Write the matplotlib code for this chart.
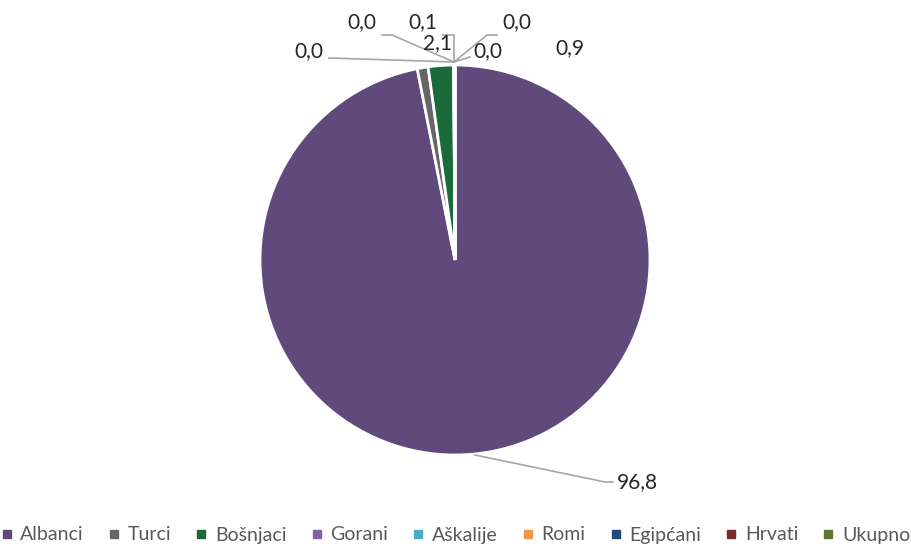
import numpy as np
import matplotlib.pyplot as plt
from matplotlib.lines import Line2D

# shares by group (%)
groups = ['Albanci', 'Turci', 'Bošnjaci', 'Gorani', 'Aškalije', 'Romi', 'Egipćani', 'Hrvati', 'Ukupno']
shares = [96.8, 0.9, 2.1, 0.0, 0.0, 0.1, 0.0, 0.0, 0.0]
labels = ['96,8', '0,9', '2,1', '0,0', '0,0', '0,1', '0,0', '0,0', '']
colors = ['#604a7b', '#666666', '#1b6a3a', '#8064a2', '#4bacc6', '#f79646', '#1f497d', '#772c2a', '#5f7530']

W, H = 911, 547
plt.rcParams['font.family'] = ['Lato', 'DejaVu Sans']

fig = plt.figure(figsize=(W / 100, H / 100), dpi=100)
ax = fig.add_axes([0, 0, 1, 1])

cx, cy, r = 455, H - 260, 195
wedges, _ = ax.pie(shares, colors=colors, startangle=90, counterclock=False,
                   center=(cx, cy), radius=r,
                   wedgeprops=dict(edgecolor='white', linewidth=2))
ax.set_xlim(0, W)
ax.set_ylim(0, H)
ax.set_aspect('equal')
ax.axis('off')

# label placement (pixel coords, y from top) and leader line paths
top = (454, 62)
label_pos = {
    0: (637, 482),
    1: (570, 48),
    2: (437, 43),
    3: (309, 51),
    4: (362, 22),
    5: (423, 22),
    6: (517, 22),
    7: (488, 51),
}
leaders = {
    0: [(475, 455), (605, 482), (613, 482)],
    3: [(329, 58), top],
    4: [(382, 35), (392, 35), top],
    5: [(443, 35), (454, 35), top],
    6: [(497, 35), (487, 35), top],
    7: [(470, 57), top],
}
for i, path in leaders.items():
    xs = [p[0] for p in path]
    ys = [H - p[1] for p in path]
    ax.plot(xs, ys, color='#a6a6a6', lw=1.2, zorder=1)

for i, txt in enumerate(labels):
    if not txt:
        continue
    x, y = label_pos[i]
    ax.text(x, H - y, txt, ha='center', va='center', fontsize=15, color='#262626')

handles = [Line2D([], [], marker='s', ls='none', markersize=6, markerfacecolor=c,
                  markeredgecolor=c) for c in colors]
fig.legend(handles, groups, loc='center', bbox_to_anchor=(0.5, 1 - 535 / H), ncol=9,
           frameon=False, fontsize=14, handlelength=0.6, handletextpad=0.4,
           columnspacing=1.25, labelcolor='#595959')

fig.savefig('out.png', dpi=100)
